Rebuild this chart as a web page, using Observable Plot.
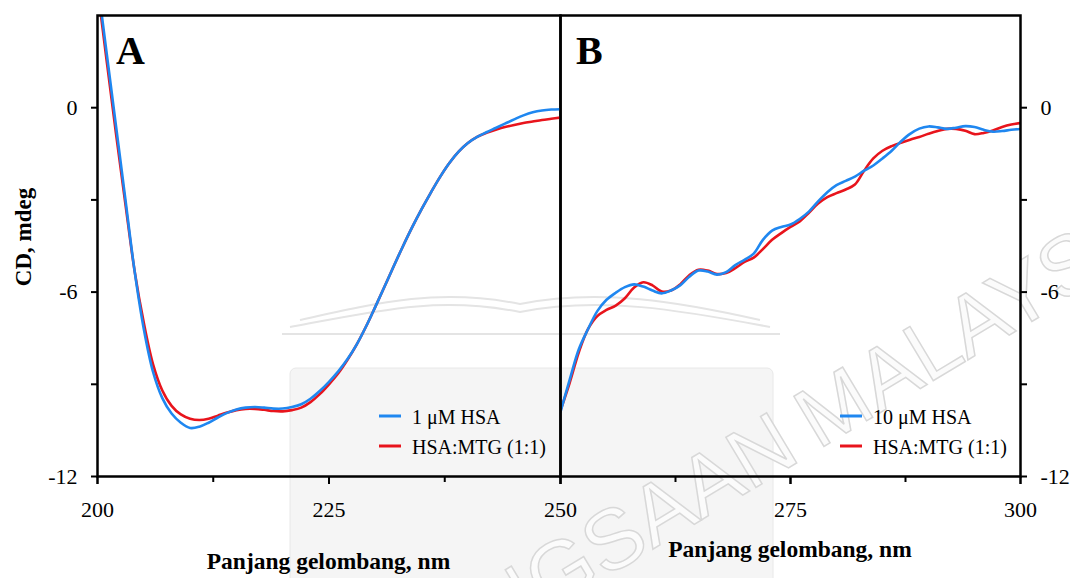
<!DOCTYPE html>
<html>
<head>
<meta charset="utf-8">
<script src="https://cdn.jsdelivr.net/npm/d3@7"></script>
<script src="https://cdn.jsdelivr.net/npm/@observablehq/plot@0.6"></script>
<style>
  html, body { margin: 0; padding: 0; background: white; }
  #wrap { position: relative; width: 1070px; height: 578px; overflow: hidden; background: white; }
  #wrap > svg, #wrap > div { position: absolute; left: 0; top: 0; }
</style>
</head>
<body>
<div id="wrap"></div>
<script>
// ---------- data ----------
const wavelengthA = [200,201,202,203,204,205,206,207,208,209,210,211,212,213,214,215,216,217,218,219,220,221,222,223,224,225,226,227,228,229,230,231,232,233,234,235,236,237,238,239,240,241,242,243,244,245,246,247,248,249,250];
const hsa1uM = [4.1,1.75,-0.6,-2.95,-5.3,-7.2,-8.6,-9.45,-9.95,-10.25,-10.42,-10.38,-10.25,-10.08,-9.93,-9.82,-9.76,-9.74,-9.76,-9.79,-9.79,-9.74,-9.65,-9.47,-9.22,-8.92,-8.58,-8.18,-7.7,-7.12,-6.48,-5.82,-5.15,-4.5,-3.88,-3.3,-2.76,-2.25,-1.8,-1.43,-1.15,-0.95,-0.8,-0.66,-0.52,-0.38,-0.25,-0.15,-0.09,-0.06,-0.05];
const hsaMtgA = [3.9,1.5,-0.85,-3.1,-5.3,-7.0,-8.35,-9.2,-9.7,-9.98,-10.12,-10.16,-10.12,-10.02,-9.92,-9.84,-9.8,-9.8,-9.83,-9.87,-9.88,-9.84,-9.76,-9.58,-9.32,-9.0,-8.64,-8.2,-7.7,-7.12,-6.48,-5.82,-5.15,-4.5,-3.88,-3.3,-2.76,-2.25,-1.8,-1.43,-1.15,-0.95,-0.82,-0.72,-0.63,-0.56,-0.5,-0.45,-0.4,-0.36,-0.32];

const wavelengthB = [250,251,252,253,254,255,256,257,258,259,260,261,262,263,264,265,266,267,268,269,270,271,272,273,274,275,276,277,278,279,280,281,282,283,284,285,286,287,288,289,290,291,292,293,294,295,296,297,298,299,300];
const hsa10uM = [-9.9,-8.85,-7.85,-7.2,-6.62,-6.25,-6.02,-5.84,-5.75,-5.82,-5.95,-6.04,-5.95,-5.78,-5.5,-5.3,-5.33,-5.43,-5.35,-5.12,-4.95,-4.75,-4.3,-4.0,-3.88,-3.8,-3.62,-3.38,-3.05,-2.75,-2.52,-2.38,-2.24,-2.05,-1.88,-1.65,-1.4,-1.1,-0.85,-0.68,-0.61,-0.64,-0.69,-0.65,-0.6,-0.63,-0.72,-0.78,-0.76,-0.72,-0.69];
const hsaMtgB = [-9.85,-8.95,-7.95,-7.2,-6.78,-6.58,-6.44,-6.2,-5.85,-5.68,-5.78,-5.98,-5.95,-5.75,-5.45,-5.27,-5.3,-5.41,-5.38,-5.22,-5.02,-4.88,-4.6,-4.3,-4.08,-3.88,-3.7,-3.42,-3.12,-2.91,-2.78,-2.66,-2.5,-2.05,-1.65,-1.4,-1.25,-1.14,-1.04,-0.95,-0.85,-0.76,-0.69,-0.69,-0.75,-0.86,-0.82,-0.74,-0.63,-0.55,-0.5];

const xLabelsA = [200, 225];
const xTicksA = [200, 225, 250];
const xMinorA = [212.5, 237.5];
const xLabelsB = [250, 275, 300];
const xTicksB = [250, 275, 300];
const xMinorB = [262.5, 287.5];
const yMajor = [0, -6, -12];
const yMinor = [-3, -9];

const legendA = ["1 \u03BCM HSA", "HSA:MTG (1:1)"];
const legendB = ["10 \u03BCM HSA", "HSA:MTG (1:1)"];
const xTitle = "Panjang gelombang, nm";
const yTitle = "CD, mdeg";
const watermark = ["UNIVERSITI KEBANGSAAN", "MALAYSIA"];

const BLUE = "#1f87f0";
const RED = "#e8141c";
const SERIF = "'Liberation Serif', 'Times New Roman', serif";

const toRows = (xs, ys) => xs.map((x, i) => ({nm: x, cd: ys[i]}));

const wrap = document.getElementById("wrap");

// ---------- watermark (background) ----------
const bg = d3.create("svg").attr("width", 1070).attr("height", 578);
bg.append("rect").attr("x", 290).attr("y", 368).attr("width", 483).attr("height", 220)
  .attr("rx", 6).attr("fill", "#f5f5f5").attr("stroke", "#e8e8e8");
bg.append("path")
  .attr("d", "M282,334 L780,334 M300,320 C380,302 440,288 520,304 C600,288 680,302 760,320 M290,327 C380,310 440,296 520,312 C600,296 680,310 770,327")
  .attr("fill", "none").attr("stroke", "#e4e4e4").attr("stroke-width", 2);
const wm = bg.append("g").attr("transform", "translate(818,450) rotate(-31)")
  .attr("font-family", "'Liberation Sans', Arial, sans-serif").attr("font-size", 85)
  .attr("fill", "#fbfbfb").attr("stroke", "#d8d8d8").attr("stroke-width", 1.5);
wm.append("text").attr("x", -18).attr("text-anchor", "end").text(watermark[0]);
wm.append("text").attr("x", 0).attr("text-anchor", "start").text(watermark[1]);
wrap.appendChild(bg.node());

// ---------- panel builder ----------
function panel({xDomain, width, marginLeft, marginRight, yAnchor, xLabels, xTicks, xMinor, blue, red, xs}) {
  const common = {stroke: "black", strokeWidth: 2};
  return Plot.plot({
    width, height: 578,
    marginLeft, marginRight, marginTop: 15, marginBottom: 102,
    x: {domain: xDomain},
    y: {domain: [-12, 3]},
    style: {background: "transparent", fontFamily: SERIF, fontSize: "22px", color: "black", overflow: "visible"},
    marks: [
      Plot.line(toRows(xs, red), {x: "nm", y: "cd", stroke: RED, strokeWidth: 2.6, curve: "catmull-rom", clip: true}),
      Plot.line(toRows(xs, blue), {x: "nm", y: "cd", stroke: BLUE, strokeWidth: 2.6, curve: "catmull-rom", clip: true}),
      Plot.axisX({ticks: xLabels, tickSize: 8, tickPadding: 17, tickFormat: d => String(d), label: null, fontSize: 22, ...common}),
      Plot.axisX({ticks: xTicks, tickSize: 8, tickFormat: () => "", label: null, ...common}),
      Plot.axisX({ticks: xMinor, tickSize: 6, tickFormat: () => "", label: null, ...common}),
      Plot.axisY({anchor: yAnchor, ticks: yMajor, tickSize: 6, tickPadding: 14, tickFormat: d => String(d), label: null, fontSize: 22, ...common}),
      Plot.axisY({anchor: yAnchor, ticks: yMinor, tickSize: 6, tickFormat: () => "", label: null, ...common}),
      Plot.frame({stroke: "black", strokeWidth: 2.5})
    ]
  });
}

const plotA = panel({xDomain: [200, 250], width: 561, marginLeft: 97, marginRight: 1, yAnchor: "left",
  xLabels: xLabelsA, xTicks: xTicksA, xMinor: xMinorA, blue: hsa1uM, red: hsaMtgA, xs: wavelengthA});
const plotB = panel({xDomain: [250, 300], width: 1070, marginLeft: 560, marginRight: 50, yAnchor: "right",
  xLabels: xLabelsB, xTicks: xTicksB, xMinor: xMinorB, blue: hsa10uM, red: hsaMtgB, xs: wavelengthB});

function decorate(plot, {letter, letterX, titleY, legend, legX}) {
  const svg = d3.select(plot);
  const x = plot.scale("x");
  const [x0, x1] = x.range;
  svg.append("text").attr("x", letterX).attr("y", 64).attr("text-anchor", "start")
    .attr("font-family", SERIF).attr("font-weight", "bold").attr("font-size", 40).attr("fill", "black").text(letter);
  svg.append("text").attr("x", (x0 + x1) / 2).attr("y", titleY).attr("text-anchor", "middle")
    .attr("font-family", SERIF).attr("font-weight", "bold").attr("font-size", 23.5).attr("fill", "black").text(xTitle);
  const colors = [BLUE, RED];
  legend.forEach((lab, i) => {
    const yy = 416 + i * 30;
    svg.append("line").attr("x1", legX).attr("x2", legX + 22).attr("y1", yy).attr("y2", yy)
      .attr("stroke", colors[i]).attr("stroke-width", 3);
    svg.append("text").attr("x", legX + 33).attr("y", yy + 7.5).attr("text-anchor", "start")
      .attr("font-family", SERIF).attr("font-size", 20).attr("fill", "black").text(lab);
  });
}

decorate(plotA, {letter: "A", letterX: 116, titleY: 569, legend: legendA, legX: 379});
decorate(plotB, {letter: "B", letterX: 576, titleY: 557, legend: legendB, legX: 840});

d3.select(plotA).append("text")
  .attr("transform", "translate(31,237) rotate(-90)").attr("text-anchor", "middle")
  .attr("font-family", SERIF).attr("font-weight", "bold").attr("font-size", 23).attr("fill", "black").text(yTitle);

wrap.appendChild(plotB);
wrap.appendChild(plotA);
</script>
</body>
</html>
